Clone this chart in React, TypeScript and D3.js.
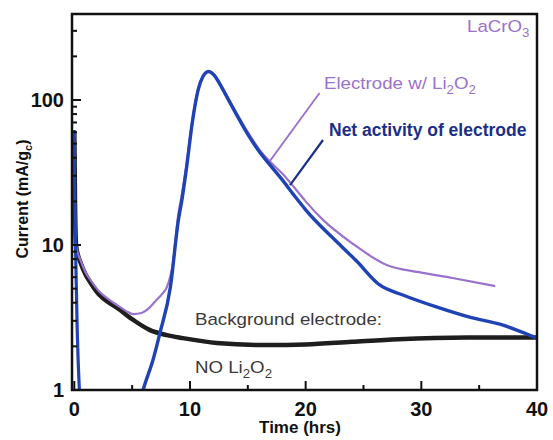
import React from "react";
import * as d3 from "d3";

// Background electrode (NO Li2O2)
const bgTime = [0, 0.06, 0.15, 0.3, 0.5, 1, 1.4, 2.2, 3, 3.7, 5.1, 6.5, 8, 9.4, 12.3, 16.6, 20, 24, 28, 34, 40];
const bgCurrent = [60, 20, 10, 8.6, 7.7, 6.2, 5.5, 4.5, 4.0, 3.68, 3.04, 2.6, 2.39, 2.28, 2.11, 2.04, 2.06, 2.15, 2.24, 2.3, 2.3];

// Electrode w/ Li2O2
const liTime = [0, 0.06, 0.15, 0.3, 0.5, 1, 1.4, 2.2, 3, 3.7, 4.5, 5.1, 5.8, 6.5, 7.1, 7.6, 8, 8.5, 9, 9.3, 9.7, 10.2, 10.7, 11.1, 11.6, 12.1, 12.6, 13, 14, 15, 16, 17, 18, 19, 20, 21.5, 24, 27, 29.8, 32.7, 36.3];
const liCurrent = [60, 20, 10.2, 8.8, 8, 6.4, 5.74, 4.74, 4.2, 3.85, 3.5, 3.34, 3.4, 3.7, 4.17, 4.6, 5.13, 7.3, 16.5, 22.5, 36, 72, 119, 146, 159, 150, 130, 114, 82, 60, 45.5, 37, 31, 25, 20, 14.9, 10.3, 7.28, 6.5, 5.92, 5.22];

// Net activity of electrode (two visible segments)
const netEarlyTime = [0, 0.02, 0.1, 0.25, 0.5];
const netEarlyCurrent = [60, 30, 10, 2.6, 0.8];
const netTime = [5.8, 5.95, 6.8, 7.4, 8.3, 9, 9.3, 9.7, 10.2, 10.7, 11.1, 11.6, 12.1, 12.6, 13, 14, 15, 16, 17, 18, 19, 20, 21, 22.6, 24.4, 26.4, 28.4, 31.3, 34.1, 37, 38.7, 40];
const netCurrent = [0.9, 1, 1.61, 2.47, 5.1, 14.9, 20.4, 34, 70, 117, 144, 157, 148, 128, 112, 80, 58, 44, 35, 28, 22, 17.5, 14.3, 10.7, 7.75, 5.3, 4.52, 3.74, 3.19, 2.81, 2.51, 2.28];

// Ticks
const xMajorTicks = [0, 10, 20, 30, 40];
const xMinorTicks = [5, 15, 25, 35];
const yMajorTicks = [1, 10, 100];
const yMinorTicks = [2, 3, 4, 5, 6, 7, 8, 9, 20, 30, 40, 50, 60, 70, 80, 90, 200, 300];

// Leader lines (data coords)
const liLeader = [[16.9, 37.9], [21.2, 111.7]];
const netLeader = [[18.65, 25.9], [21.5, 53]];

const W = 553;
const H = 440;
const L = 72, R = 537, T = 14, B = 390;

const FONT = "Arial, 'Liberation Sans', Helvetica, sans-serif";

export default function App() {
  const x = d3.scaleLinear().domain([-0.2, 40]).range([L, R]);
  const y = d3.scaleLog().domain([1, 392]).range([B, T]);

  const line = d3
    .line<[number, number]>()
    .x((d) => x(d[0]))
    .y((d) => y(Math.max(d[1], 0.3)))
    .curve(d3.curveMonotoneX);

  const zip = (a: number[], b: number[]) => a.map((t, i) => [t, b[i]] as [number, number]);

  const bgPath = line(zip(bgTime, bgCurrent)) || "";
  const liPath = line(zip(liTime, liCurrent)) || "";
  const netEarlyPath = line(zip(netEarlyTime, netEarlyCurrent)) || "";
  const netPath = line(zip(netTime, netCurrent)) || "";

  const purple = "#9a72cc";
  const blue = "#1f43b5";
  const navy = "#1b2f88";

  return (
    <svg width={W} height={H} style={{ position: "absolute", left: 0, top: 0, background: "#fff" }}>
      <defs>
        <clipPath id="plotclip">
          <rect x={L} y={T} width={R - L} height={B - T} />
        </clipPath>
      </defs>
      <rect x={0} y={0} width={W} height={H} fill="#fff" />

      <g clipPath="url(#plotclip)" fill="none" strokeLinejoin="round" strokeLinecap="round">
        <path d={bgPath} stroke="#1e1e1e" strokeWidth={4.5} />
        <path d={liPath} stroke={purple} strokeWidth={2.2} />
        <path d={netEarlyPath} stroke={blue} strokeWidth={3.2} />
        <path d={netPath} stroke={blue} strokeWidth={3.4} />
      </g>

      {/* leader lines */}
      <line x1={x(liLeader[0][0])} y1={y(liLeader[0][1])} x2={x(liLeader[1][0])} y2={y(liLeader[1][1])} stroke={purple} strokeWidth={1.8} />
      <line x1={x(netLeader[0][0])} y1={y(netLeader[0][1])} x2={x(netLeader[1][0])} y2={y(netLeader[1][1])} stroke={navy} strokeWidth={2.2} />

      {/* frame */}
      <rect x={L} y={T} width={R - L} height={B - T} fill="none" stroke="#111" strokeWidth={2.5} />

      {/* ticks */}
      <g stroke="#111" strokeWidth={2}>
        {xMajorTicks.map((t) => (
          <line key={"xM" + t} x1={x(t)} x2={x(t)} y1={B} y2={B - 9} />
        ))}
        {xMinorTicks.map((t) => (
          <line key={"xm" + t} x1={x(t)} x2={x(t)} y1={B} y2={B - 5} />
        ))}
        {yMajorTicks.map((v) => (
          <line key={"yM" + v} x1={L} x2={L + 9} y1={y(v)} y2={y(v)} />
        ))}
        {yMinorTicks.map((v) => (
          <line key={"ym" + v} x1={L} x2={L + 5} y1={y(v)} y2={y(v)} />
        ))}
      </g>

      {/* tick labels */}
      <g fontFamily={FONT} fontWeight="bold" fontSize={20} fill="#111">
        {xMajorTicks.map((t) => (
          <text key={"xl" + t} x={x(t)} y={416} textAnchor="middle">
            {t}
          </text>
        ))}
        {yMajorTicks.map((v) => (
          <text key={"yl" + v} x={64} y={y(v) + 7} textAnchor="end">
            {v}
          </text>
        ))}
      </g>

      {/* axis titles */}
      <text x={300} y={433} textAnchor="middle" fontFamily={FONT} fontWeight="bold" fontSize={17} fill="#111">
        Time (hrs)
      </text>
      <text transform="translate(28,199) rotate(-90)" textAnchor="middle" fontFamily={FONT} fontWeight="bold" fontSize={16} fill="#111">
        Current (mA/g<tspan fontSize={11} dy={4}>c</tspan>
        <tspan dy={-4}>)</tspan>
      </text>

      {/* annotations */}
      <g fontFamily={FONT} fontSize={17}>
        <g transform="translate(467,32) scale(1.1,1)">
          <text fill={purple}>
            LaCrO<tspan fontSize={12} dy={5}>3</tspan>
          </text>
        </g>
        <g transform="translate(324,89) scale(1.1,1)">
          <text fill={purple}>
            Electrode w/ Li<tspan fontSize={12} dy={5}>2</tspan>
            <tspan dy={-5}>O</tspan>
            <tspan fontSize={12} dy={5}>2</tspan>
          </text>
        </g>
        <text x={329} y={136} fill={navy} fontWeight="bold" fontSize={17.5}>
          Net activity of electrode
        </text>
        <g transform="translate(195,325) scale(1.1,1)">
          <text fill="#3a3a3a">Background electrode:</text>
        </g>
        <g transform="translate(195,373) scale(1.1,1)">
          <text fill="#3a3a3a">
            NO Li<tspan fontSize={12} dy={5}>2</tspan>
            <tspan dy={-5}>O</tspan>
            <tspan fontSize={12} dy={5}>2</tspan>
          </text>
        </g>
      </g>
    </svg>
  );
}
